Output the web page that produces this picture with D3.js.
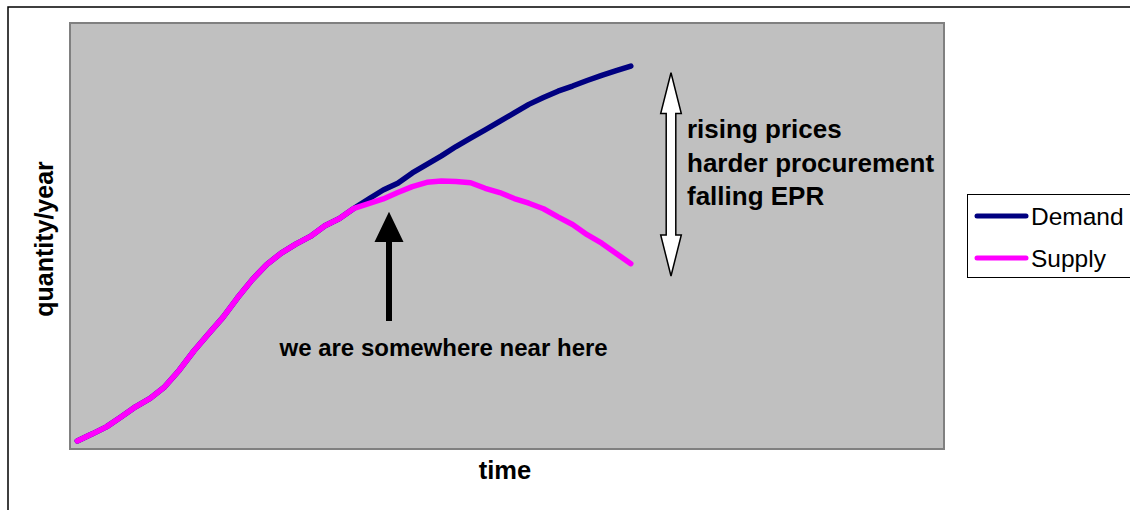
<!DOCTYPE html>
<html>
<head>
<meta charset="utf-8">
<script src="https://cdn.jsdelivr.net/npm/d3@7"></script>
<style>
  html, body { margin: 0; padding: 0; background: #ffffff; }
  svg { display: block; }
  text { font-family: "Liberation Sans", Arial, sans-serif; }
</style>
</head>
<body>
<svg id="chart" width="1130" height="510"></svg>
<script>
// ---- data ----
const periods = [1,2,3,4,5,6,7,8,9,10,11,12,13,14,15,16,17,18,19,20,
                 21,22,23,24,25,26,27,28,29,30,31,32,33,34,35,36,37,38,39,40,
                 41,42,43,44,45,46,47,48,49,50,51,52,53,54,55,56,57,58,59,60];
const demand = [1.9, 3.5, 5.2, 7.5, 9.9, 11.9, 14.6, 18.5, 23.0, 27.0,
                30.9, 35.5, 39.7, 43.3, 46.0, 48.1, 49.9, 52.4, 54.1, 56.5,
                58.7, 60.8, 62.4, 64.8, 66.8, 68.8, 71.0, 73.0, 74.9, 76.9,
                78.9, 80.9, 82.5, 84.0, 85.2, 86.5, 87.7, 88.8, 89.9];
const supply = [1.9, 3.5, 5.2, 7.5, 9.9, 11.9, 14.6, 18.5, 23.0, 27.0,
                30.9, 35.5, 39.7, 43.3, 46.0, 48.1, 49.9, 52.4, 54.1, 56.5,
                57.6, 58.7, 60.2, 61.6, 62.6, 62.9, 62.8, 62.5, 61.2, 60.2,
                58.8, 57.7, 56.4, 54.5, 52.7, 50.3, 48.3, 45.9, 43.5];
const seriesNames = ["Demand", "Supply"];
const seriesColors = ["#000080", "#ff00ff"];
const yDomain = [0, 100];
const xTitle = "time";
const yTitle = "quantity/year";
const noteLines = ["rising prices", "harder procurement", "falling EPR"];
const hereNote = "we are somewhere near here";

// ---- layout ----
const svg = d3.select("#chart");
const plot = { left: 70, top: 23, right: 944, bottom: 449 };

const x = d3.scalePoint().domain(periods).range([plot.left, plot.right]).padding(0.5);
const y = d3.scaleLinear().domain(yDomain).range([plot.bottom, plot.top]);

// outer chart border
svg.append("rect")
  .attr("x", 8).attr("y", 7).attr("width", 1140).attr("height", 520)
  .attr("fill", "#ffffff").attr("stroke", "#000000").attr("stroke-width", 1.5);

// plot area
svg.append("rect")
  .attr("x", plot.left).attr("y", plot.top)
  .attr("width", plot.right - plot.left).attr("height", plot.bottom - plot.top)
  .attr("fill", "#c0c0c0").attr("stroke", "#808080").attr("stroke-width", 2);

// lines
const line = d3.line()
  .x((d, i) => x(periods[i]))
  .y(d => y(d))
  .curve(d3.curveLinear);

[demand, supply].forEach((s, k) => {
  svg.append("path")
    .datum(s)
    .attr("d", line)
    .attr("fill", "none")
    .attr("stroke", seriesColors[k])
    .attr("stroke-width", 5.5)
    .attr("stroke-linecap", "round")
    .attr("stroke-linejoin", "round");
});

// black arrow
{
  const cx = 389;
  const tipY = 211.7, baseY = 242, botY = 321;
  const hw = 14.5, sw = 3;
  svg.append("path")
    .attr("d", `M${cx},${tipY} L${cx + hw},${baseY} L${cx + sw},${baseY} L${cx + sw},${botY} L${cx - sw},${botY} L${cx - sw},${baseY} L${cx - hw},${baseY} Z`)
    .attr("fill", "#000000");
}
svg.append("text")
  .attr("x", 279.5).attr("y", 356)
  .attr("font-size", 24).attr("font-weight", "bold").attr("fill", "#000")
  .text(hereNote);

// double-headed white arrow
{
  const cx = 671;
  const topY = 72.7, topBase = 113.5, botBase = 235, botY = 276;
  const hw = 10.3, sw = 4.8;
  svg.append("path")
    .attr("d", `M${cx},${topY} L${cx + hw},${topBase} L${cx + sw},${topBase} L${cx + sw},${botBase} L${cx + hw},${botBase} L${cx},${botY} L${cx - hw},${botBase} L${cx - sw},${botBase} L${cx - sw},${topBase} L${cx - hw},${topBase} Z`)
    .attr("fill", "#ffffff").attr("stroke", "#000000").attr("stroke-width", 1.5)
    .attr("stroke-linejoin", "miter");
}
const noteBase = [138, 171.5, 205];
noteLines.forEach((t, i) => {
  svg.append("text")
    .attr("x", 687).attr("y", noteBase[i])
    .attr("font-size", 26).attr("font-weight", "bold").attr("fill", "#000")
    .text(t);
});

// axis titles
svg.append("text")
  .attr("x", 505).attr("y", 479)
  .attr("text-anchor", "middle")
  .attr("font-size", 25.5).attr("font-weight", "bold").attr("fill", "#000")
  .text(xTitle);
svg.append("text")
  .attr("transform", "translate(53,239) rotate(-90)")
  .attr("text-anchor", "middle")
  .attr("font-size", 25).attr("font-weight", "bold").attr("fill", "#000")
  .text(yTitle);

// legend
svg.append("rect")
  .attr("x", 967.5).attr("y", 194.5).attr("width", 200).attr("height", 83)
  .attr("fill", "#ffffff").attr("stroke", "#000000").attr("stroke-width", 1);
const legY = [216, 258];
seriesNames.forEach((n, i) => {
  svg.append("line")
    .attr("x1", 977).attr("x2", 1026).attr("y1", legY[i]).attr("y2", legY[i])
    .attr("stroke", seriesColors[i]).attr("stroke-width", 5)
    .attr("stroke-linecap", "round");
  svg.append("text")
    .attr("x", 1031).attr("y", legY[i] + 8.5)
    .attr("font-size", 24.5).attr("fill", "#000")
    .text(n);
});
</script>
</body>
</html>
